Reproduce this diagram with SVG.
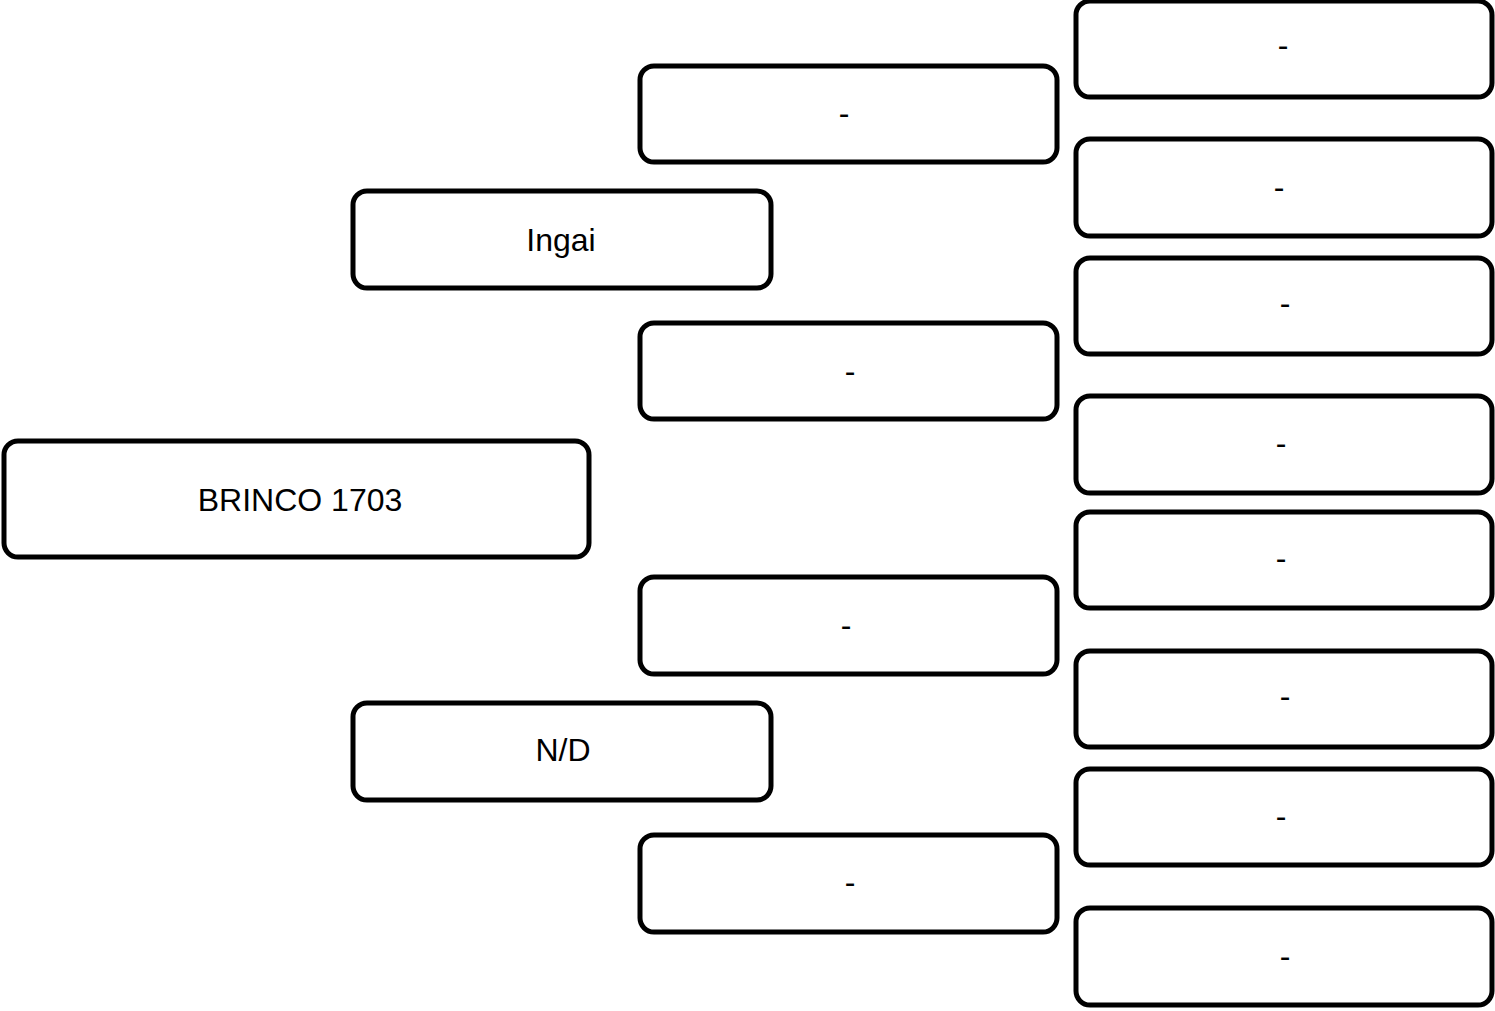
<svg xmlns="http://www.w3.org/2000/svg" width="1495" height="1011" viewBox="0 0 1495 1011">
<style>
.box{fill:#fff;stroke:#000;stroke-width:5}
.t{font-family:"Liberation Sans",Arial,sans-serif;font-size:32px;fill:#000;text-anchor:middle;dominant-baseline:central}
</style>
<rect width="1495" height="1011" fill="#fff"/>
<g id="connectors"></g>
<g id="n1"><rect class="box" x="4" y="441" width="585" height="116" rx="14"/><text class="t" x="300" y="500">BRINCO 1703</text></g>
<g id="n2"><rect class="box" x="353" y="191" width="418" height="97" rx="14"/><text class="t" x="561" y="240">Ingai</text></g>
<g id="n3"><rect class="box" x="353" y="703" width="418" height="97" rx="14"/><text class="t" x="563" y="750">N/D</text></g>
<g id="n4"><rect class="box" x="640" y="66" width="417" height="96" rx="14"/><text class="t" x="844" y="113">-</text></g>
<g id="n5"><rect class="box" x="640" y="323" width="417" height="96" rx="14"/><text class="t" x="850" y="371">-</text></g>
<g id="n6"><rect class="box" x="640" y="577" width="417" height="97" rx="14"/><text class="t" x="846" y="625">-</text></g>
<g id="n7"><rect class="box" x="640" y="835" width="417" height="97" rx="14"/><text class="t" x="850" y="882">-</text></g>
<g id="n8"><rect class="box" x="1076" y="1" width="416" height="96" rx="14"/><text class="t" x="1283" y="45">-</text></g>
<g id="n9"><rect class="box" x="1076" y="139" width="416" height="97" rx="14"/><text class="t" x="1279" y="187">-</text></g>
<g id="n10"><rect class="box" x="1076" y="258" width="416" height="96" rx="14"/><text class="t" x="1285" y="303">-</text></g>
<g id="n11"><rect class="box" x="1076" y="396" width="416" height="97" rx="14"/><text class="t" x="1281" y="443">-</text></g>
<g id="n12"><rect class="box" x="1076" y="512" width="416" height="96" rx="14"/><text class="t" x="1281" y="558">-</text></g>
<g id="n13"><rect class="box" x="1076" y="651" width="416" height="96" rx="14"/><text class="t" x="1285" y="696">-</text></g>
<g id="n14"><rect class="box" x="1076" y="769" width="416" height="96" rx="14"/><text class="t" x="1281" y="816">-</text></g>
<g id="n15"><rect class="box" x="1076" y="908" width="416" height="97" rx="14"/><text class="t" x="1285" y="956">-</text></g>
</svg>
